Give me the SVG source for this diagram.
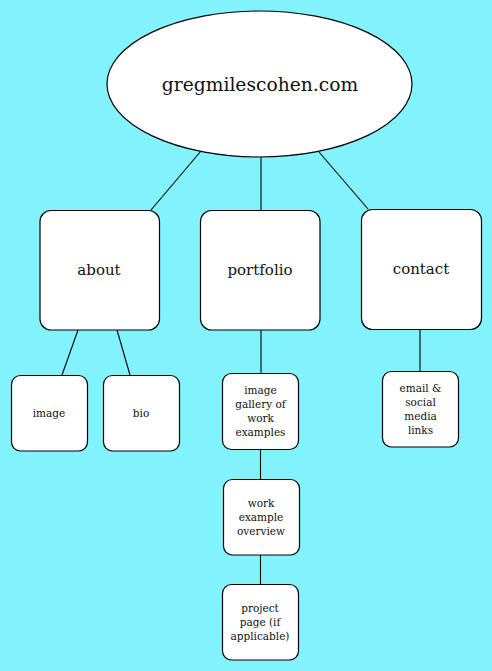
<svg xmlns="http://www.w3.org/2000/svg" width="492" height="671" viewBox="0 0 492 671">
<style>
.n{fill:#fff;stroke:#000;stroke-width:1.2}
.c line{stroke:#000;stroke-width:1.1}
text{font-family:"DejaVu Serif","Liberation Serif",serif;fill:#111;text-anchor:middle}
.big{font-size:18.7px}
.mid{font-size:15px}
.sm{font-size:10.5px}
</style>
<rect width="492" height="671" fill="#82F3FC"/>
<g id="connectors" class="c">
<line x1="201" y1="151" x2="151" y2="210"/>
<line x1="261" y1="157" x2="261" y2="210"/>
<line x1="319" y1="152" x2="368" y2="209"/>
<line x1="78" y1="330" x2="62" y2="375"/>
<line x1="117" y1="330" x2="130" y2="375"/>
<line x1="261" y1="330" x2="261" y2="373"/>
<line x1="260.5" y1="449" x2="260.5" y2="479"/>
<line x1="260.5" y1="555" x2="260.5" y2="584"/>
<line x1="420" y1="329" x2="420" y2="371"/>
</g>
<g id="root"><ellipse class="n" cx="259.5" cy="84" rx="152.5" ry="73"/><text class="big" x="260" y="91">gregmilescohen.com</text></g>
<g id="about"><rect class="n" x="40" y="210.5" width="119.5" height="119.5" rx="11"/><text class="mid" x="99" y="275">about</text></g>
<g id="portfolio"><rect class="n" x="200.5" y="210.5" width="119.5" height="119.5" rx="11"/><text class="mid" x="260" y="275">portfolio</text></g>
<g id="contact"><rect class="n" x="361.5" y="209.5" width="120" height="120" rx="11"/><text class="mid" x="421" y="274">contact</text></g>
<g id="image"><rect class="n" x="11.5" y="375.5" width="76" height="75.5" rx="9"/><text class="sm" x="49" y="417">image</text></g>
<g id="bio"><rect class="n" x="103.5" y="375.5" width="76" height="75.5" rx="9"/><text class="sm" x="141" y="417">bio</text></g>
<g id="gallery"><rect class="n" x="222.5" y="373.5" width="76" height="76" rx="9"/><text class="sm" x="260.5" y="393.5">image<tspan x="260.5" dy="14">gallery of</tspan><tspan x="260.5" dy="14">work</tspan><tspan x="260.5" dy="14">examples</tspan></text></g>
<g id="overview"><rect class="n" x="223.5" y="479.5" width="76" height="75.5" rx="9"/><text class="sm" x="261" y="506.5">work<tspan x="261" dy="14">example</tspan><tspan x="261" dy="14">overview</tspan></text></g>
<g id="project"><rect class="n" x="222.5" y="584.5" width="76" height="75.5" rx="9"/><text class="sm" x="260" y="611.5">project<tspan x="260" dy="14">page (if</tspan><tspan x="260" dy="14">applicable)</tspan></text></g>
<g id="email"><rect class="n" x="382.5" y="371.5" width="76" height="75.5" rx="9"/><text class="sm" x="420.5" y="391.5">email &amp;<tspan x="420.5" dy="14">social</tspan><tspan x="420.5" dy="14">media</tspan><tspan x="420.5" dy="14">links</tspan></text></g>
</svg>
